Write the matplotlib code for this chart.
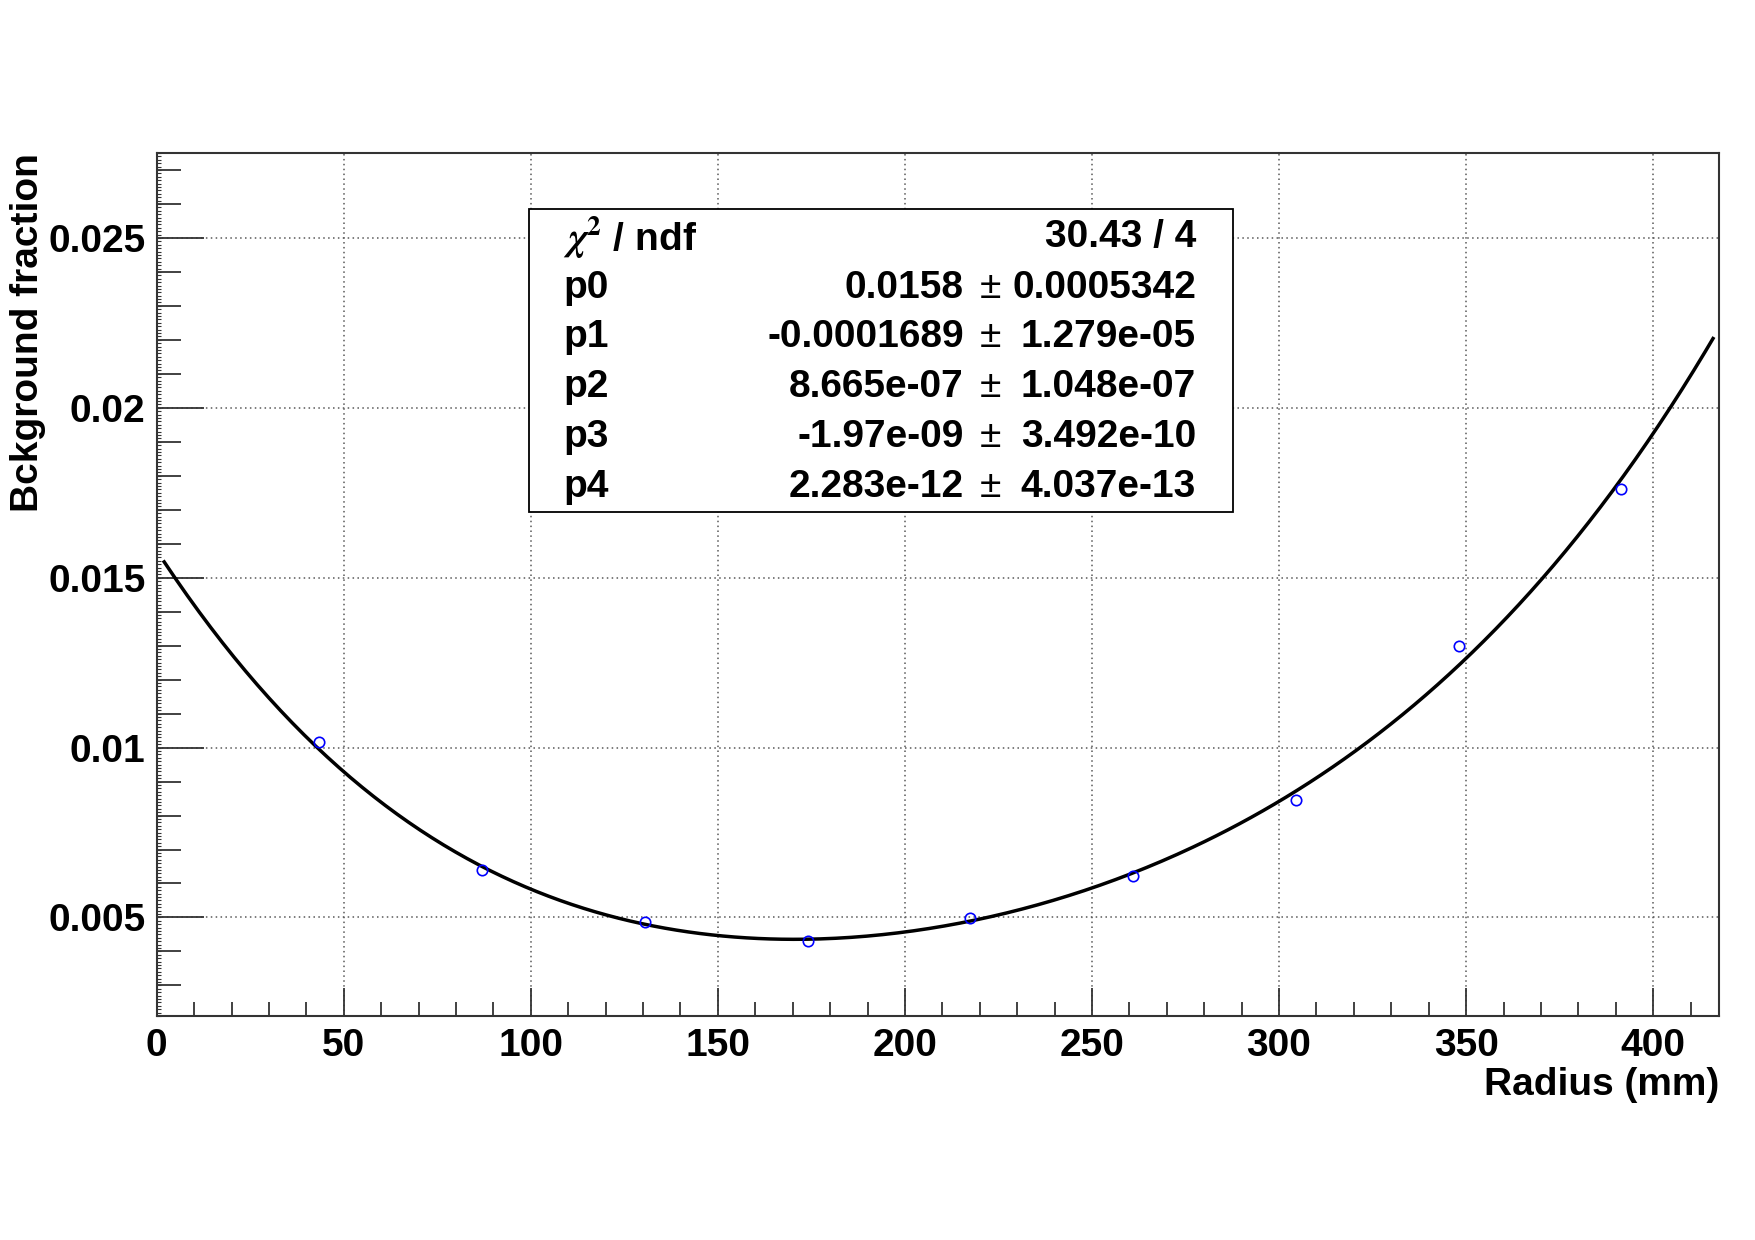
import numpy as np
import matplotlib
matplotlib.use("Agg")
import matplotlib.pyplot as plt
from matplotlib.ticker import MultipleLocator, FuncFormatter
from matplotlib.patches import Rectangle

plt.rcParams['font.family'] = ['Liberation Sans', 'DejaVu Sans']
plt.rcParams['font.weight'] = 'bold'
plt.rcParams['mathtext.fontset'] = 'stix'

# measured points (bin centres)
radius = [43.5, 87.0, 130.5, 174.0, 217.5, 261.0, 304.5, 348.0, 391.5]
frac = [0.01017, 0.00640, 0.00487, 0.00432, 0.00499, 0.00621, 0.00846, 0.01298, 0.01762]

# pol4 fit result from the stats box
par_names = ["p0", "p1", "p2", "p3", "p4"]
par_vals = [0.0158, -0.0001689, 8.665e-07, -1.97e-09, 2.283e-12]
par_val_txt = ["0.0158", "-0.0001689", "8.665e-07", "-1.97e-09", "2.283e-12"]
par_err_txt = ["0.0005342", "1.279e-05", "1.048e-07", "3.492e-10", "4.037e-13"]
chi2_txt = "30.43 / 4"
fit_lo, fit_hi = 2.0, 416.0

W, H = 1755, 1240
fig = plt.figure(figsize=(W / 100, H / 100), dpi=100)
ax = fig.add_axes([156.7 / W, 1 - 1016 / H, (1719 - 156.7) / W, (1016 - 153) / H])

xf = np.linspace(fit_lo, fit_hi, 400)
yf = np.polyval(par_vals[::-1], xf)
ax.plot(xf, yf, color="black", lw=2.5, zorder=3)
ax.plot(radius, frac, ls="none", marker="o", ms=7.5, mfc="none",
        mec="#0000ff", mew=1.2, zorder=4)

ax.set_xlim(0, 417.6)
ax.set_ylim(0.0021, 0.0275)

ax.xaxis.set_major_locator(MultipleLocator(50))
ax.xaxis.set_minor_locator(MultipleLocator(10))
ax.yaxis.set_major_locator(MultipleLocator(0.005))
ax.yaxis.set_minor_locator(MultipleLocator(0.001))
ax.yaxis.set_major_formatter(FuncFormatter(lambda v, p: "%g" % round(v, 6)))
ax.xaxis.set_major_formatter(FuncFormatter(lambda v, p: "%g" % v))

ax.tick_params(axis="both", which="both", direction="in", top=False, right=False,
               labelsize=28, width=1.3, color="#333333")
ax.tick_params(axis="x", which="major", length=20, pad=9)
ax.tick_params(axis="x", which="minor", length=10)
ax.tick_params(axis="y", which="major", length=34, pad=8)
ax.tick_params(axis="y", which="minor", length=17)
for lab in ax.get_xticklabels() + ax.get_yticklabels():
    lab.set_fontweight("bold")

# tiny third-level ticks on the y axis
sec = ax.secondary_yaxis("left")
sec.spines["left"].set_visible(False)
sec.yaxis.set_major_locator(MultipleLocator(0.0001))
sec.tick_params(axis="y", which="both", direction="in", length=3, width=0.8,
                labelleft=False, color="#333333")

ax.grid(True, which="major", color="0.35", ls=(0, (1, 2.2)), lw=1.1)
for s in ax.spines.values():
    s.set_linewidth(1.5)
    s.set_color("#333333")

fig.text(28 / W, 1 - 153 / H, "Bckground fraction", rotation=90, ha="center",
         va="top", fontsize=28, fontweight="bold")
fig.text(1719 / W, 1 - 1085 / H, "Radius (mm)", ha="right", va="center",
         fontsize=28, fontweight="bold")

# stats box
fig.patches.append(Rectangle((529 / W, 1 - 512 / H), (1233 - 529) / W, (512 - 209) / H,
                             transform=fig.transFigure, facecolor="white",
                             edgecolor="black", lw=1.3, zorder=5))
row_y = [237, 288, 337, 387, 437, 487]
fig.text(563 / W, 1 - row_y[0] / H, r"$\chi^{2}$ / ndf", ha="left", va="center",
         fontsize=28, fontweight="bold", zorder=6)
fig.text(1196 / W, 1 - row_y[0] / H, chi2_txt, ha="right", va="center",
         fontsize=28, fontweight="bold", zorder=6)
for i in range(5):
    yy = 1 - row_y[i + 1] / H
    fig.text(563 / W, yy, par_names[i], ha="left", va="center", fontsize=28,
             fontweight="bold", zorder=6)
    fig.text(964 / W, yy, par_val_txt[i], ha="right", va="center", fontsize=28,
             fontweight="bold", zorder=6)
    fig.text(990 / W, yy, "\u00b1", ha="center", va="center", fontsize=28,
             fontweight="normal", zorder=6)
    fig.text(1196 / W, yy, par_err_txt[i], ha="right", va="center", fontsize=28,
             fontweight="bold", zorder=6)

fig.savefig("out.png", dpi=100)
